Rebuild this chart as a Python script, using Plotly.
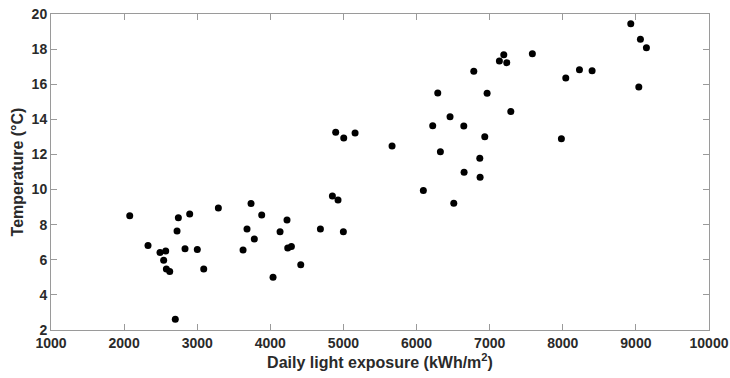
import plotly.graph_objects as go

light = [2077, 2327, 2491, 2569, 2541, 2578, 2624, 2724, 2742, 2700,
         2833, 2897, 3001, 3089, 3289, 3627, 3681, 3736, 3781, 3882,
         4133, 4228, 4238, 4288, 4037, 4416, 4685, 4849, 4926, 4999,
         4894, 5004, 5159, 5665, 6093, 6509, 6221, 6290, 6326, 6458,
         6646, 6650, 6783, 6865, 6869, 6933, 6965, 7133, 7193, 7234,
         7289, 7584, 7981, 8041, 8228, 8401, 8930, 9062, 9144, 9040]
temp = [8.51, 6.81, 6.41, 6.50, 5.97, 5.48, 5.33, 7.64, 8.40, 2.61,
        6.63, 8.61, 6.58, 5.48, 8.95, 6.56, 7.76, 9.20, 7.19, 8.55,
        7.60, 8.27, 6.67, 6.75, 5.00, 5.71, 7.76, 9.64, 9.41, 7.59,
        13.26, 12.94, 13.22, 12.48, 9.94, 9.22, 13.64, 15.50, 12.16, 14.15,
        13.62, 10.98, 16.74, 11.78, 10.70, 13.01, 15.48, 17.32, 17.68, 17.23,
        14.44, 17.74, 12.90, 16.36, 16.83, 16.77, 19.45, 18.56, 18.08, 15.84]

x_ticks = [1000, 2000, 3000, 4000, 5000, 6000, 7000, 8000, 9000, 10000]
y_ticks = [2, 4, 6, 8, 10, 12, 14, 16, 18, 20]

fig = go.Figure(go.Scatter(
    x=light, y=temp, mode="markers",
    marker=dict(color="black", size=7),
    hoverinfo="x+y",
))

font_fam = "Liberation Sans, Arial, sans-serif"
axis_common = dict(
    showgrid=False, zeroline=False, automargin=False,
    showline=True, linecolor="#9a9a9a", linewidth=1, mirror="ticks",
    ticks="inside", ticklen=6, tickcolor="#9a9a9a", tickwidth=1,
    tickfont=dict(family=font_fam, size=14, color="#2a2a2a", weight="bold"),
)

fig.update_layout(
    width=730, height=378,
    margin=dict(l=51, r=21, t=14, b=48),
    paper_bgcolor="white", plot_bgcolor="white",
    showlegend=False,
    xaxis=dict(
        range=[1000, 10000], tickvals=x_ticks,
        ticktext=[str(v) for v in x_ticks],
        title=dict(text="Daily light exposure (kWh/m<sup>2</sup>)",
                   font=dict(family=font_fam, size=16, color="#2a2a2a", weight="bold"),
                   standoff=4),
        **axis_common,
    ),
    yaxis=dict(
        range=[2, 20], tickvals=y_ticks,
        ticktext=[str(v) for v in y_ticks],
        title=dict(text="Temperature (°C)",
                   font=dict(family=font_fam, size=16, color="#2a2a2a", weight="bold"),
                   standoff=4),
        **axis_common,
    ),
)

fig.write_html("out.html")
